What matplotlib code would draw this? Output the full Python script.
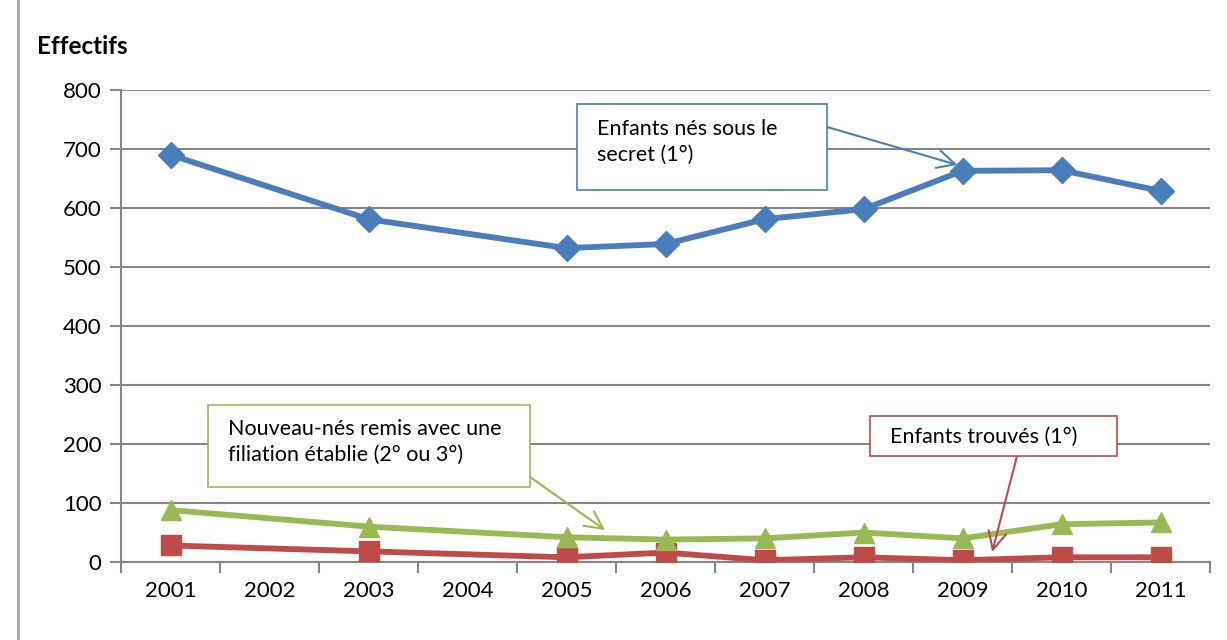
import matplotlib
matplotlib.use("Agg")
import matplotlib.pyplot as plt
from matplotlib.patches import Rectangle
from matplotlib.lines import Line2D

plt.rcParams['font.family'] = ['Lato', 'DejaVu Sans']

# categories on the axis (2002 and 2004 have no data)
years = ['2001', '2002', '2003', '2004', '2005', '2006', '2007', '2008', '2009', '2010', '2011']
data_years = ['2001', '2003', '2005', '2006', '2007', '2008', '2009', '2010', '2011']

secret = [690, 581, 532, 539, 581, 598, 663, 664, 629]
trouves = [28, 18, 8, 16, 3, 8, 3, 8, 8]
filiation = [88, 60, 42, 38, 40, 50, 40, 64, 67]

W, H = 1227, 640
fig = plt.figure(figsize=(W / 100, H / 100), dpi=100)
ax = fig.add_axes([121 / W, 1 - 562 / H, (1210 - 121) / W, (562 - 90) / H])

def px(x, y):
    # pixel coords (top-left origin) -> figure fraction
    return (x / W, 1 - y / H)

xpos = [years.index(y) for y in data_years]

ax.plot(xpos, secret, color='#4A7EBB', lw=4.2, marker='D', ms=13, zorder=3)
ax.plot(xpos, trouves, color='#BE4B48', lw=4.2, marker='s', ms=14, zorder=3)
ax.plot(xpos, filiation, color='#98B954', lw=4.2, marker='^', ms=15, zorder=4)

ax.set_xlim(-0.5, len(years) - 0.5)
ax.set_ylim(0, 800)
ax.set_yticks(range(0, 801, 100))
ax.set_xticks(range(len(years)))
ax.set_xticklabels(years)
ax.set_xticks([i - 0.5 for i in range(len(years) + 1)], minor=True)
ax.tick_params(axis='x', which='major', length=0, pad=14, labelsize=16)
ax.tick_params(axis='x', which='minor', length=8, width=1.5, color='#868686')
ax.tick_params(axis='y', length=8, width=1.5, color='#868686', labelsize=16, pad=6)
ax.grid(axis='y', color='#868686', lw=1.5, zorder=0)
for s in ['top', 'right']:
    ax.spines[s].set_visible(False)
for s in ['left', 'bottom']:
    ax.spines[s].set_color('#868686')
    ax.spines[s].set_linewidth(1.5)

fig.text(*px(37, 47), 'Effectifs', fontsize=17.5, fontweight='bold', va='center', ha='left')

# frame line at the left
fig.add_artist(Line2D([18 / W, 18 / W], [0, 1], color='#A6A6A6', lw=2))

def box(x0, y0, x1, y1, edge, lines, tx, ty):
    fig.add_artist(Rectangle(px(x0, y1), (x1 - x0) / W, (y1 - y0) / H,
                             transform=fig.transFigure, facecolor='white',
                             edgecolor=edge, lw=1.2, zorder=5))
    fig.text(*px(tx, ty), lines, fontsize=15.5, va='top', ha='left',
             linespacing=1.35, zorder=6)

box(577, 104, 827, 190, '#4A7EBB', 'Enfants nés sous le\nsecret (1°)', 597, 119)
box(208, 405, 530, 487, '#98B954', 'Nouveau-nés remis avec une\nfiliation établie (2° ou 3°)', 228, 419)
box(870, 416, 1117, 456, '#BE4B48', 'Enfants trouvés (1°)', 890, 427)

def arrow(tip, start, color):
    ax.annotate('', xy=tip, xycoords='data', xytext=px(*start),
                textcoords='figure fraction',
                arrowprops=dict(arrowstyle='->', color=color, lw=1.5,
                                mutation_scale=32, shrinkA=0, shrinkB=0),
                zorder=6, annotation_clip=False)

arrow((7.95, 673), (827, 127), '#4A7EBB')
arrow((4.39, 54), (530, 477), '#98B954')
arrow((8.30, 17), (1017, 456), '#BE4B48')

fig.savefig('out.png', dpi=100)
